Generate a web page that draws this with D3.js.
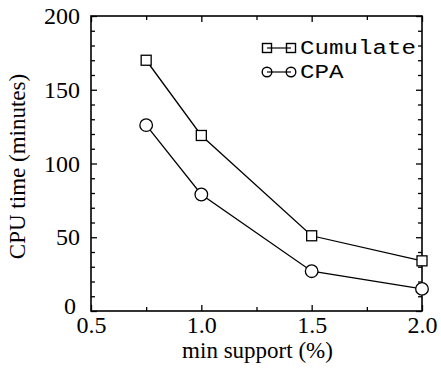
<!DOCTYPE html>
<html><head><meta charset="utf-8">
<script src="https://cdn.jsdelivr.net/npm/d3@7"></script>
<style>body{margin:0;background:#fff;} svg{display:block;}
.ser{font-family:'Liberation Serif','Times New Roman',serif;}
.mon{font-family:'Liberation Mono','Courier New',monospace;}
</style>
</head><body>
<script>
const support = [0.75, 1.0, 1.5, 2.0];
const cumulate = [170, 119, 51, 34];
const cpa = [126, 79, 27, 15];
const xMajor = [0.5, 1.0, 1.5, 2.0];
const xMinor = [0.75, 1.25, 1.75];
const yMajor = [0, 50, 100, 150, 200];
const seriesNames = ["Cumulate", "CPA"];

const W = 441, H = 370;
const m = {left: 91, right: 19, top: 16, bottom: 59};
const svg = d3.select("body").append("svg").attr("width", W).attr("height", H);
const x = d3.scaleLinear().domain([0.5, 2.0]).range([m.left, W - m.right]);
const y = d3.scaleLinear().domain([0, 200]).range([H - m.bottom, m.top]);
const yMinor = d3.range(0, 201, 10).filter(v => v % 50 !== 0);

function style(g, labels) {
  g.attr("font-family", null).attr("font-size", null);
  g.select(".domain").remove();
  g.selectAll("line").attr("stroke", "#000").attr("stroke-width", 1.3);
  g.selectAll("text").attr("class", "ser")
    .style("font-family", "'Liberation Serif','Times New Roman',serif")
    .style("font-size", "24px").attr("fill", "#000");
  if (!labels) g.selectAll("text").remove();
}
// bottom
svg.append("g").attr("transform", `translate(0,${y(0)})`)
  .call(d3.axisBottom(x).tickValues(xMajor).tickFormat(d3.format(".1f")).tickSize(-6).tickPadding(5))
  .call(g => style(g, true));
svg.append("g").attr("transform", `translate(0,${y(0)})`)
  .call(d3.axisBottom(x).tickValues(xMinor).tickSize(-4)).call(g => style(g, false));
// top
svg.append("g").attr("transform", `translate(0,${y(200)})`)
  .call(d3.axisTop(x).tickValues(xMajor).tickSize(-6)).call(g => style(g, false));
svg.append("g").attr("transform", `translate(0,${y(200)})`)
  .call(d3.axisTop(x).tickValues(xMinor).tickSize(-4)).call(g => style(g, false));
// left
svg.append("g").attr("transform", `translate(${x(0.5)},0)`)
  .call(d3.axisLeft(y).tickValues(yMajor).tickSize(-6).tickPadding(11))
  .call(g => style(g, true))
  .call(g => g.selectAll(".tick").filter(d => d === 0).select("text")
    .attr("x", -15).attr("dy", "0.1em"));
svg.append("g").attr("transform", `translate(${x(0.5)},0)`)
  .call(d3.axisLeft(y).tickValues(yMinor).tickSize(-4)).call(g => style(g, false));
// right
svg.append("g").attr("transform", `translate(${x(2.0)},0)`)
  .call(d3.axisRight(y).tickValues(yMajor).tickSize(-6)).call(g => style(g, false));
svg.append("g").attr("transform", `translate(${x(2.0)},0)`)
  .call(d3.axisRight(y).tickValues(yMinor).tickSize(-4)).call(g => style(g, false));

// frame
svg.append("rect").attr("x", x(0.5)).attr("y", y(200))
  .attr("width", x(2.0) - x(0.5)).attr("height", y(0) - y(200))
  .attr("fill", "none").attr("stroke", "#000").attr("stroke-width", 1.6);

// axis titles
svg.append("text").attr("class", "ser").attr("x", (x(0.5) + x(2.0)) / 2 + 1).attr("y", 358)
  .attr("text-anchor", "middle").style("font-size", "23px")
  .text("min support (%)");
svg.append("text").attr("class", "ser").attr("transform", `translate(25,${(y(0) + y(200)) / 2 + 3}) rotate(-90)`)
  .attr("text-anchor", "middle").style("font-size", "23px")
  .text("CPU time (minutes)");

// lines
const line = d3.line().x(d => x(d[0])).y(d => y(d[1]));
const dCum = support.map((s, i) => [s, cumulate[i]]);
const dCpa = support.map((s, i) => [s, cpa[i]]);
[dCum, dCpa].forEach(d => svg.append("path").attr("d", line(d))
  .attr("fill", "none").attr("stroke", "#000").attr("stroke-width", 1.3));

svg.selectAll(".sq").data(dCum).enter().append("rect")
  .attr("x", d => x(d[0]) - 5).attr("y", d => y(d[1]) - 5)
  .attr("width", 10).attr("height", 10)
  .attr("fill", "#fff").attr("stroke", "#000").attr("stroke-width", 1.3);
svg.selectAll(".ci").data(dCpa).enter().append("circle")
  .attr("cx", d => x(d[0])).attr("cy", d => y(d[1])).attr("r", 6.3)
  .attr("fill", "#fff").attr("stroke", "#000").attr("stroke-width", 1.3);

// legend
const lg = svg.append("g");
[0, 1].forEach(i => {
  const cy = 48 + i * 24;
  lg.append("line").attr("x1", 267).attr("x2", 291).attr("y1", cy).attr("y2", cy)
    .attr("stroke", "#000").attr("stroke-width", 1.2);
  [267, 291].forEach(cx => {
    if (i === 0) {
      lg.append("rect").attr("x", cx - 4.5).attr("y", cy - 4.5).attr("width", 9).attr("height", 9)
        .attr("fill", "none").attr("stroke", "#000").attr("stroke-width", 1.4);
    } else {
      lg.append("circle").attr("cx", cx).attr("cy", cy).attr("r", 4.8)
        .attr("fill", "none").attr("stroke", "#000").attr("stroke-width", 1.4);
    }
  });
  lg.append("text").attr("class", "mon").attr("x", 300).attr("y", cy + 6)
    .style("font-size", "20px").attr("fill", "#000")
    .attr("textLength", seriesNames[i].length * 14.5).attr("lengthAdjust", "spacingAndGlyphs")
    .text(seriesNames[i]);
});
</script>
</body></html>
